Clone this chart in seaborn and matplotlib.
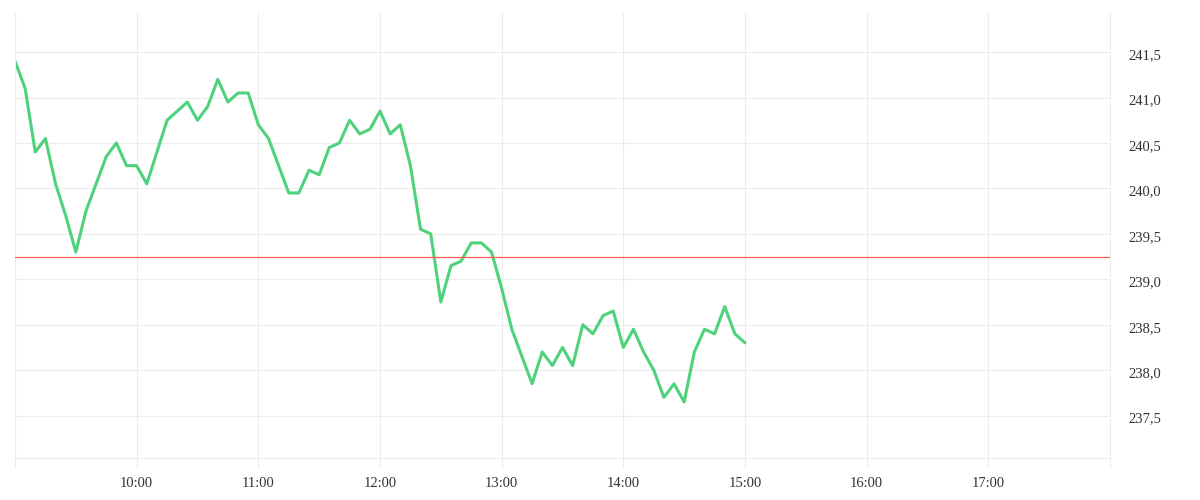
import pandas as pd
import matplotlib
matplotlib.use("Agg")
import matplotlib.pyplot as plt
import matplotlib.transforms as mtransforms
import seaborn as sns

# price every 5 minutes, 09:00 -> 15:00
prices = [
    241.40, 241.10, 240.40, 240.55, 240.05, 239.70, 239.30, 239.75, 240.05, 240.35,
    240.50, 240.25, 240.25, 240.05, 240.40, 240.75, 240.85, 240.95, 240.75, 240.90,
    241.20, 240.95, 241.05, 241.05, 240.70, 240.55, 240.25, 239.95, 239.95, 240.20,
    240.15, 240.45, 240.50, 240.75, 240.60, 240.65, 240.85, 240.60, 240.70, 240.25,
    239.55, 239.50, 238.75, 239.15, 239.20, 239.40, 239.40, 239.30, 238.90, 238.45,
    238.15, 237.85, 238.20, 238.05, 238.25, 238.05, 238.50, 238.40, 238.60, 238.65,
    238.25, 238.45, 238.20, 238.00, 237.70, 237.85, 237.65, 238.20, 238.45, 238.40,
    238.70, 238.40, 238.30,
]
prev_close = 239.25
session_start = "2024-01-02 09:00"
session_end = "2024-01-02 18:00"
y_ticks = [237.5, 238.0, 238.5, 239.0, 239.5, 240.0, 240.5, 241.0, 241.5]

times = pd.date_range(session_start, periods=len(prices), freq="5min")
df = pd.DataFrame({"time": times, "price": prices})

sns.set_theme(style="white")
plt.rcParams["font.family"] = ["Liberation Serif", "DejaVu Serif"]

grid_col = "#ececec"
text_col = "#333333"

fig = plt.figure(figsize=(12, 5), dpi=100)
ax = fig.add_axes([0.0125, 0.0834, 0.9125, 0.8906])

sns.lineplot(data=df, x="time", y="price", ax=ax, color="#4fd27c", linewidth=2.2)
ax.axhline(prev_close, color="#ff5a5a", linewidth=0.9, zorder=3)

ax.set_xlim(pd.Timestamp(session_start), pd.Timestamp(session_end))
ax.set_ylim(237.03, 241.93)

hours = pd.date_range(session_start, session_end, freq="1h")
ax.set_xticks(hours)
ax.set_xticklabels([""] + [h.strftime("%H:%M") for h in hours[1:-1]] + [""])
ax.set_yticks(y_ticks)
ax.set_yticklabels([f"{v:.1f}".replace(".", ",") for v in y_ticks])

ax.yaxis.tick_right()
ax.tick_params(axis="x", bottom=True, length=7.2, width=0.75, color=grid_col,
               direction="out", pad=6.0, labelsize=10.5, labelcolor=text_col)
ax.tick_params(axis="y", left=False, right=False, length=0, pad=13,
               labelsize=10.5, labelcolor=text_col)

# nudge the price labels a little below their grid lines
shift = mtransforms.ScaledTranslation(0, -2 / 100, fig.dpi_scale_trans)
for lbl in ax.get_yticklabels():
    lbl.set_transform(lbl.get_transform() + shift)

ax.grid(True, color=grid_col, linewidth=0.75)
ax.set_axisbelow(True)

for side in ["left", "right", "bottom"]:
    ax.spines[side].set_visible(True)
    ax.spines[side].set_color(grid_col)
    ax.spines[side].set_linewidth(0.75)
ax.spines["top"].set_visible(False)

ax.set_xlabel("")
ax.set_ylabel("")

fig.savefig("out.png", dpi=100)
